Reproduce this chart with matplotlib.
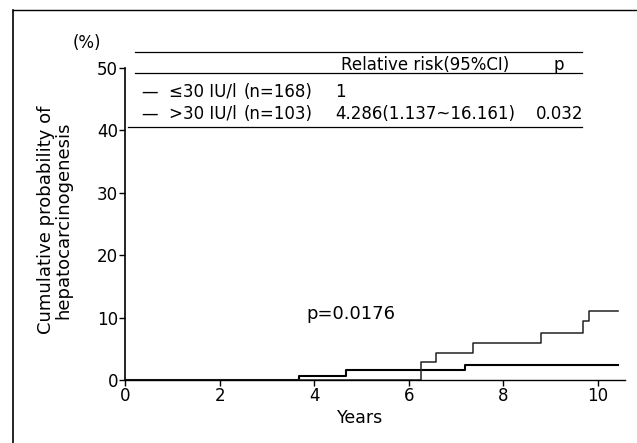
import matplotlib.pyplot as plt
from matplotlib.lines import Line2D

plt.rcParams['font.family'] = ['DejaVu Sans']

# step curves (years, cumulative %)
low_t = [0, 3.67, 4.67, 7.18, 10.42]
low_y = [0, 0.6, 1.6, 2.4, 2.4]
high_t = [0, 6.25, 6.58, 7.36, 8.79, 9.68, 9.81, 10.42]
high_y = [0, 2.9, 4.4, 5.9, 7.6, 9.4, 11.0, 11.0]

x_ticks = [0, 2, 4, 6, 8, 10]
y_ticks = [0, 10, 20, 30, 40, 50]

header = ["Relative risk(95%CI)", "p"]
groups = ["≤30 IU/l", ">30 IU/l"]
counts = ["(n=168)", "(n=103)"]
risks = ["1", "4.286(1.137~16.161)"]
pvals = ["", "0.032"]

W, H = 637, 443
fig = plt.figure(figsize=(W / 100, H / 100), dpi=100)
ax = fig.add_axes([125 / W, 1 - 380 / H, 500 / W, 312 / H])

ax.step(low_t, low_y, where='post', color='black', lw=1.5)
ax.step(high_t, high_y, where='post', color='#222222', lw=1.1)

ax.set_xlim(0, 10.57)
ax.set_ylim(0, 50)
ax.set_xticks(x_ticks)
ax.set_yticks(y_ticks)
ax.tick_params(labelsize=12, length=4, width=1, pad=1)
for s in ['top', 'right']:
    ax.spines[s].set_visible(False)
ax.spines['left'].set_linewidth(1.2)
ax.spines['bottom'].set_linewidth(1.0)


def fx(px):
    return px / W


def fy(py):
    return 1 - py / H


fig.text(fx(360), fy(418), "Years", fontsize=12.5, ha='center', va='center')
fig.text(fx(55), fy(220), "Cumulative probability of\nhepatocarcinogenesis",
         rotation=90, ha='center', va='center', fontsize=13, linespacing=0.95)
fig.text(fx(87), fy(43), "(%)", ha='center', va='center', fontsize=12)

ax.text(3.84, 10.6, "p=0.0176", fontsize=13, va='center')

# table lines
for py, x0 in [(52, 135), (73, 135), (127, 128)]:
    fig.add_artist(Line2D([fx(x0), fx(582)], [fy(py), fy(py)], color='black', lw=0.9))

fs = 12
fig.text(fx(341), fy(63), header[0], fontsize=fs, va='center_baseline')
fig.text(fx(559), fy(63), header[1], fontsize=fs, va='center_baseline', ha='center')
for py, g, c, r, p in zip([90, 112], groups, counts, risks, pvals):
    fig.text(fx(141), fy(py), "—", fontsize=fs, va='center_baseline')
    fig.text(fx(169), fy(py), g, fontsize=fs, va='center_baseline')
    fig.text(fx(278), fy(py), c, fontsize=fs, va='center_baseline', ha='center')
    fig.text(fx(335), fy(py), r, fontsize=fs, va='center_baseline')
    fig.text(fx(583), fy(py), p, fontsize=fs, va='center_baseline', ha='right')

# page frame (top and left edges)
fig.add_artist(Line2D([fx(13), 1], [fy(10), fy(10)], color='black', lw=1.0))
fig.add_artist(Line2D([fx(13), fx(13)], [0, fy(10)], color='black', lw=1.2))

fig.savefig("out.png", dpi=100)
